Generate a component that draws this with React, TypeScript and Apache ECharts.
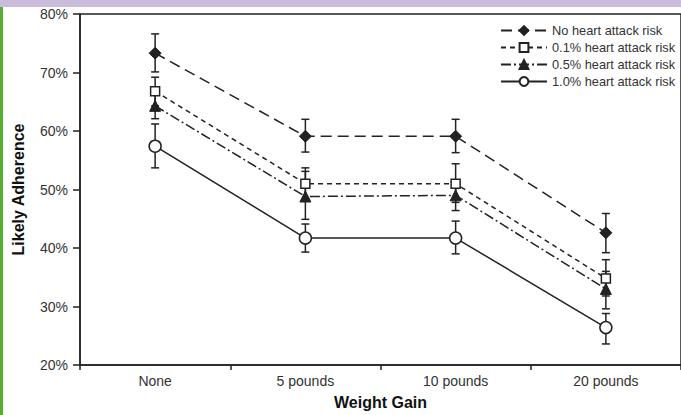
import React, { useEffect, useRef } from "react";
import * as echarts from "echarts";

const categories = ["None", "5 pounds", "10 pounds", "20 pounds"];
const yTicks = [20, 30, 40, 50, 60, 70, 80];

const seriesNames = [
  "No heart attack risk",
  "0.1% heart attack risk",
  "0.5% heart attack risk",
  "1.0% heart attack risk",
];

const noRisk = [73.3, 59.1, 59.1, 42.6];
const noRiskLow = [70.1, 56.4, 56.3, 39.2];
const noRiskHigh = [76.6, 62.0, 62.0, 45.9];

const risk01 = [66.8, 51.0, 51.0, 34.8];
const risk01Low = [64.3, 48.4, 47.8, 31.8];
const risk01High = [69.2, 53.7, 54.4, 38.0];

const risk05 = [64.3, 48.8, 49.0, 33.0];
const risk05Low = [62.1, 44.9, 46.4, 29.6];
const risk05High = [67.3, 53.1, 51.6, 36.0];

const risk10 = [57.4, 41.7, 41.7, 26.4];
const risk10Low = [53.7, 39.3, 39.0, 23.6];
const risk10High = [61.2, 44.1, 44.6, 28.8];

const INK = "#222";
const FONT = "'Liberation Sans', Arial, Helvetica, sans-serif";

export default function App() {
  const ref = useRef<HTMLDivElement>(null);
  useEffect(() => {
    if (!ref.current) return;
    const chart = echarts.init(ref.current, null, { renderer: "svg" });

    const lows = [noRiskLow, risk01Low, risk05Low, risk10Low];
    const highs = [noRiskHigh, risk01High, risk05High, risk10High];
    const errData: number[][] = [];
    lows.forEach((lo, s) => {
      lo.forEach((v, i) => errData.push([i, v, highs[s][i]]));
    });

    const lineBase = (name: string, data: number[], dash: any, symbol: string, size: number, filled: boolean) => ({
      type: "line",
      name,
      data,
      symbol,
      symbolSize: size,
      z: 5,
      lineStyle: { color: INK, width: 1.5, type: dash },
      itemStyle: filled
        ? { color: INK, borderColor: INK, borderWidth: 1 }
        : { color: "#fff", borderColor: INK, borderWidth: 1.5 },
      emphasis: { disabled: true },
    });

    chart.setOption({
      animation: false,
      backgroundColor: "#fff",
      textStyle: { fontFamily: FONT },
      graphic: [
        { type: "rect", left: 0, top: 0, shape: { width: 681, height: 7 }, style: { fill: "#c8bcd8" }, z: 100 },
        { type: "rect", left: 0, top: 7, shape: { width: 3, height: 408 }, style: { fill: "#5aaa3c" }, z: 100 },
      ],
      grid: {
        left: 80,
        top: 14,
        width: 608,
        height: 352,
        show: true,
        borderColor: INK,
        borderWidth: 1.5,
        backgroundColor: "transparent",
      },
      legend: {
        left: 500,
        top: 24,
        padding: 0,
        orient: "vertical",
        itemWidth: 46,
        itemHeight: 11,
        itemGap: 4,
        selectedMode: false,
        data: seriesNames,
        textStyle: { fontFamily: FONT, fontSize: 12.8, color: "#333" },
      },
      xAxis: {
        type: "category",
        data: categories,
        boundaryGap: true,
        name: "Weight Gain",
        nameLocation: "middle",
        nameGap: 29,
        nameTextStyle: { fontFamily: FONT, fontSize: 16, fontWeight: "bold", color: "#111" },
        axisLine: { lineStyle: { color: INK, width: 1.5 } },
        axisTick: { show: true, length: 5, lineStyle: { color: INK, width: 1.5 } },
        axisLabel: { fontFamily: FONT, fontSize: 14, color: "#333", margin: 9 },
        splitLine: { show: false },
      },
      yAxis: {
        type: "value",
        min: yTicks[0],
        max: yTicks[yTicks.length - 1],
        interval: 10,
        name: "Likely Adherence",
        nameLocation: "middle",
        nameGap: 54,
        nameTextStyle: { fontFamily: FONT, fontSize: 16, fontWeight: "bold", color: "#111" },
        axisLine: { show: true, lineStyle: { color: INK, width: 1.5 } },
        axisTick: { show: true, length: 7, lineStyle: { color: INK, width: 1.5 } },
        axisLabel: { fontFamily: FONT, fontSize: 14, color: "#333", margin: 12, formatter: "{value}%" },
        splitLine: { show: false },
      },
      series: [
        {
          type: "custom",
          name: "errors",
          data: errData,
          z: 2,
          encode: { x: 0, y: [1, 2] },
          renderItem: (params: any, api: any) => {
            const x = api.value(0);
            const lo = api.coord([x, api.value(1)]);
            const hi = api.coord([x, api.value(2)]);
            const w = 4;
            const st = { stroke: INK, lineWidth: 1.5 };
            return {
              type: "group",
              children: [
                { type: "line", shape: { x1: lo[0], y1: lo[1], x2: hi[0], y2: hi[1] }, style: st },
                { type: "line", shape: { x1: lo[0] - w, y1: lo[1], x2: lo[0] + w, y2: lo[1] }, style: st },
                { type: "line", shape: { x1: hi[0] - w, y1: hi[1], x2: hi[0] + w, y2: hi[1] }, style: st },
              ],
            };
          },
        },
        lineBase(seriesNames[0], noRisk, [11, 6], "diamond", 12, true),
        lineBase(seriesNames[1], risk01, [5, 4], "rect", 9, false),
        lineBase(seriesNames[2], risk05, [10, 3, 2, 3], "triangle", 11, true),
        lineBase(seriesNames[3], risk10, "solid", "circle", 12, false),
      ],
    });
    return () => chart.dispose();
  }, []);
  return (
    <div
      ref={ref}
      style={{ position: "absolute", left: 0, top: 0, width: 681, height: 415, overflow: "hidden" }}
    />
  );
}
